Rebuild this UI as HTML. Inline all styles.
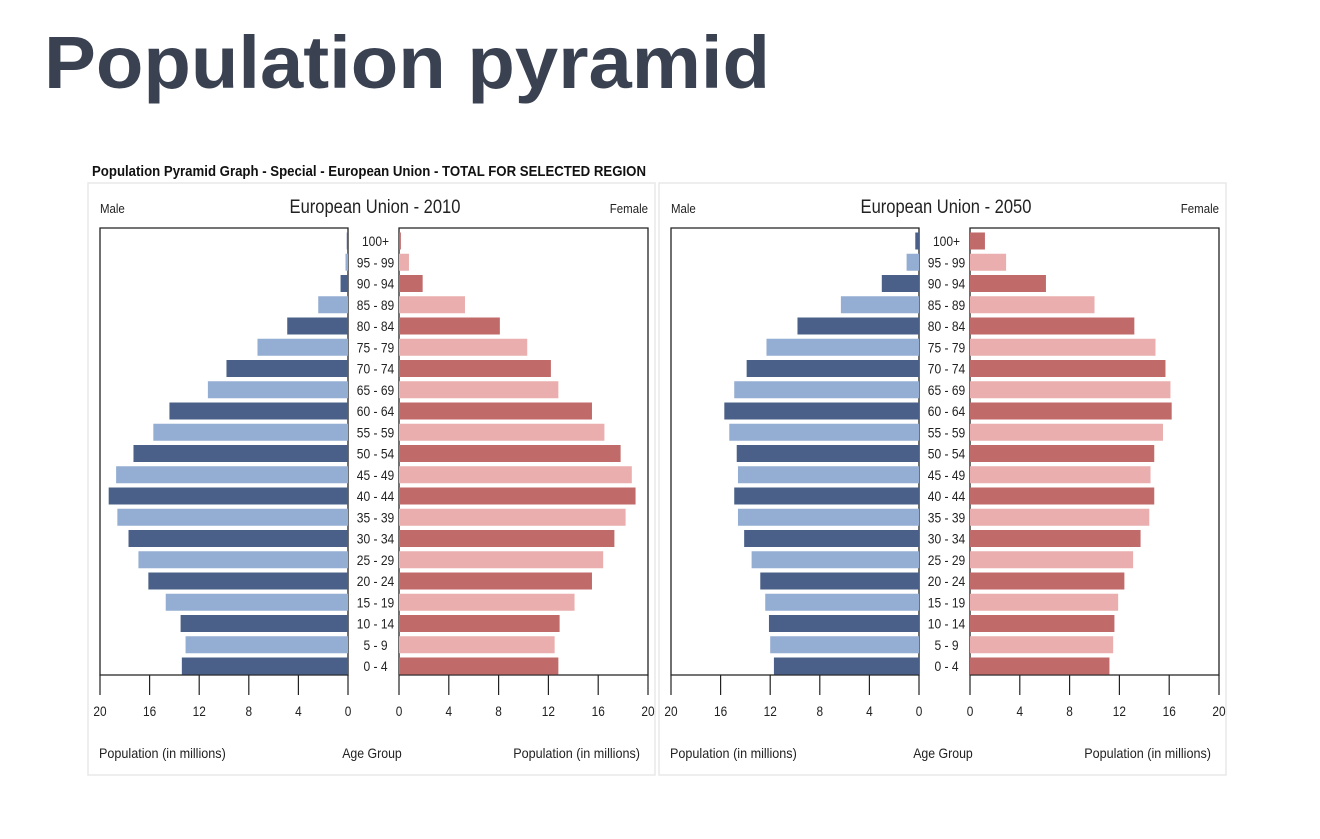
<!DOCTYPE html>
<html><head><meta charset="utf-8"><style>
html,body{margin:0;padding:0;background:#fff;}
svg text{font-family:"Liberation Sans Narrow","Liberation Sans",sans-serif;}
</style></head><body>
<svg id="chart" width="1320" height="834" viewBox="0 0 1320 834" xmlns="http://www.w3.org/2000/svg">
<text x="44" y="88" font-size="74" font-weight="bold" fill="#3a4252" textLength="726" lengthAdjust="spacingAndGlyphs" style="font-family:'Liberation Sans',sans-serif">Population pyramid</text>
<text x="92" y="176" font-size="15" font-weight="bold" fill="#111" textLength="554" lengthAdjust="spacingAndGlyphs">Population Pyramid Graph - Special - European Union - TOTAL FOR SELECTED REGION</text>
<g id="panels"></g>
</svg>
<script>
const ageGroups = ["0 - 4","5 - 9","10 - 14","15 - 19","20 - 24","25 - 29","30 - 34","35 - 39","40 - 44","45 - 49","50 - 54","55 - 59","60 - 64","65 - 69","70 - 74","75 - 79","80 - 84","85 - 89","90 - 94","95 - 99","100+"];
const male2010 = [13.4,13.1,13.5,14.7,16.1,16.9,17.7,18.6,19.3,18.7,17.3,15.7,14.4,11.3,9.8,7.3,4.9,2.4,0.6,0.2,0.1];
const female2010 = [12.8,12.5,12.9,14.1,15.5,16.4,17.3,18.2,19.0,18.7,17.8,16.5,15.5,12.8,12.2,10.3,8.1,5.3,1.9,0.8,0.15];
const male2050 = [11.7,12.0,12.1,12.4,12.8,13.5,14.1,14.6,14.9,14.6,14.7,15.3,15.7,14.9,13.9,12.3,9.8,6.3,3.0,1.0,0.3];
const female2050 = [11.2,11.5,11.6,11.9,12.4,13.1,13.7,14.4,14.8,14.5,14.8,15.5,16.2,16.1,15.7,14.9,13.2,10.0,6.1,2.9,1.2];
const tickValues = [0,4,8,12,16,20];
const panelTitles = ["European Union - 2010","European Union - 2050"];

const NS="http://www.w3.org/2000/svg";
const root=document.getElementById('panels');
function mk(tag,attrs,parent,text){const e=document.createElementNS(NS,tag);for(const k in attrs)e.setAttribute(k,attrs[k]);if(text!==undefined)e.textContent=text;parent.appendChild(e);return e;}
function squeeze(t,f){const L=t.getComputedTextLength();if(L>0){t.setAttribute('textLength',(L*f).toFixed(1));t.setAttribute('lengthAdjust','spacingAndGlyphs');}}

const panels=[{ox:0,m:male2010,f:female2010,t:panelTitles[0]},{ox:571,m:male2050,f:female2050,t:panelTitles[1]}];
const TOP=228,BOT=675,MAX=20;
function yRow(i){return 666-i*21.25;}
panels.forEach((p,pi)=>{
  const g=mk('g',{},root);
  
  
  const o=p.ox;
  const mZero=348+o,mEnd=100+o,fZero=399+o,fEnd=648+o;
  const xm=v=>mZero-(mZero-mEnd)*v/MAX;
  const xf=v=>fZero+(fEnd-fZero)*v/MAX;
  const fr=mk('rect',{x:88+o,y:183,width:567,height:592,fill:'none',stroke:'#e8e8e8','stroke-width':1.5},g);
  
  
  const tt=mk('text',{x:375+o,y:213,'font-size':19,'text-anchor':'middle',fill:'#222'},g,p.t);
  
  
  squeeze(tt,0.87);
  const ml=mk('text',{x:100+o,y:213,'font-size':13,fill:'#222'},g,'Male');
  
  
  squeeze(ml,0.88);
  const fl=mk('text',{x:648+o,y:213,'font-size':13,'text-anchor':'end',fill:'#222'},g,'Female');
  
  
  squeeze(fl,0.88);
  mk('path',{d:`M${mZero} ${TOP}H${mEnd}V${BOT}H${mZero}Z`,fill:'none',stroke:'#222','stroke-width':1.3},g);
  mk('path',{d:`M${fZero} ${BOT}V${TOP}H${fEnd}V${BOT}H${fZero}`,fill:'none',stroke:'#222','stroke-width':1.3},g);
  ageGroups.forEach((a,i)=>{
    const y=yRow(i),h=17,dark=i%2===0;
    const mb=mk('rect',{x:xm(p.m[i]),y:y-h/2,width:mZero-xm(p.m[i]),height:h,fill:dark?'#4a6088':'#94add2'},g);
    
    
    const fb=mk('rect',{x:fZero,y:y-h/2,width:xf(p.f[i])-fZero,height:h,fill:dark?'#c06a6a':'#eaaeae'},g);
    
    
    const al=mk('text',{x:(mZero+fZero)/2+2,y:y+5,'font-size':14,'text-anchor':'middle',fill:'#222'},g,a);
    
    
    squeeze(al,0.86);
  });
  tickValues.forEach(v=>{
    [xm(v),xf(v)].forEach(x=>{
      mk('line',{x1:x,y1:BOT,x2:x,y2:695,stroke:'#222','stroke-width':1.2},g);
      const tl=mk('text',{x:x,y:716,'font-size':14,'text-anchor':'middle',fill:'#222'},g,String(v));
      
      
      squeeze(tl,0.85);
    });
  });
  const a1=mk('text',{x:99+o,y:758,'font-size':14,fill:'#222'},g,'Population (in millions)');
  
  
  squeeze(a1,0.9);
  const a2=mk('text',{x:372+o,y:758,'font-size':14,'text-anchor':'middle',fill:'#222'},g,'Age Group');
  
  
  squeeze(a2,0.88);
  const a3=mk('text',{x:640+o,y:758,'font-size':14,'text-anchor':'end',fill:'#222'},g,'Population (in millions)');
  
  
  squeeze(a3,0.9);
});
</script>
</body></html>
